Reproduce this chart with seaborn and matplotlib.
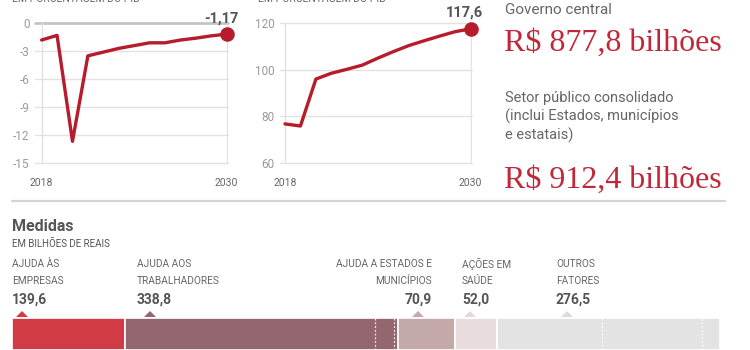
import matplotlib
matplotlib.use("Agg")
import matplotlib.pyplot as plt
from matplotlib.patches import Polygon
import seaborn as sns
import pandas as pd

# ---- data -------------------------------------------------------------
anos = list(range(2018, 2031))
resultado_primario = [-1.8, -1.3, -12.7, -3.5, -3.1, -2.7, -2.4, -2.1, -2.1, -1.8, -1.6, -1.35, -1.17]
divida_bruta = [76.7, 75.8, 96.0, 98.5, 100.2, 102.0, 105.0, 107.8, 110.4, 112.5, 114.5, 116.4, 117.6]

primario_ticks = [0, -3, -6, -9, -12, -15]
divida_ticks = [60, 80, 100, 120]

medidas_nomes = [["AJUDA ÀS", "EMPRESAS"],
                 ["AJUDA AOS", "TRABALHADORES"],
                 ["AJUDA A ESTADOS E", "MUNICÍPIOS"],
                 ["AÇÕES EM", "SAÚDE"],
                 ["OUTROS", "FATORES"]]
medidas_valores = [139.6, 338.8, 70.9, 52.0, 276.5]
divisoes_internas = [450.1, 474.0, 731.5, 855.1]

governo_central = "R$ 877,8 bilhões"
setor_publico = "R$ 912,4 bilhões"

# ---- style ------------------------------------------------------------
sns.set_theme(style="white")
SANS = ["Liberation Sans Narrow", "Roboto", "DejaVu Sans"]
SERIF = ["Liberation Serif", "DejaVu Serif"]
plt.rcParams["font.family"] = SANS

RED_LINE = "#b71c2c"
RED_TEXT = "#c0283a"
GRID = "#e2e2e2"
seg_cores = ["#d13b45", "#946670", "#c4a9ab", "#e9dcdd", "#e3e3e3"]

W, H = 750, 350
fig = plt.figure(figsize=(W / 100, H / 100), dpi=100)


def fx(x):
    return x / W


def fy(y):
    return 1 - y / H


def axes_px(x0, x1, y0, y1):
    return fig.add_axes([fx(x0), fy(y1), (x1 - x0) / W, (y1 - y0) / H])


def fmt(v, nd=1):
    return f"{v:.{nd}f}".replace(".", ",")


def small_chart(ax, values, ticks, ylim, top_label, label_dx):
    df = pd.DataFrame({"ano": anos, "valor": values})
    for t in ticks:
        strong = t == ylim[1] and ticks is primario_ticks
        ax.axhline(t, color="#c4c4c4" if strong else GRID,
                   lw=2 if strong else 1, zorder=0, clip_on=False)
    ax.axvline(anos[0], color=GRID, lw=1, zorder=0)
    ax.axvline(anos[-1], color=GRID, lw=1, zorder=0)
    sns.lineplot(data=df, x="ano", y="valor", ax=ax, color=RED_LINE,
                 lw=2.4, zorder=3, legend=False)
    ax.scatter([anos[-1]], [values[-1]], s=110, color=RED_LINE,
               zorder=4, clip_on=False, linewidths=0)
    ax.annotate(top_label, (anos[-1], values[-1]), xytext=(label_dx, 9),
                textcoords="offset pixels", ha="right", va="bottom",
                fontsize=10.5, fontweight="bold", color="#555555",
                annotation_clip=False)
    ax.set_ylim(*ylim)
    ax.set_yticks(ticks)
    ax.set_yticklabels([str(t) for t in ticks])
    ax.set_xticks([anos[0], anos[-1]])
    ax.set_xticklabels([str(anos[0]), str(anos[-1])])
    ax.tick_params(axis="y", length=0, pad=4, labelsize=8.5, labelcolor="#9a9a9a")
    ax.tick_params(axis="x", length=0, pad=11, labelsize=7.5, labelcolor="#666666")
    ax.set_xlabel("")
    ax.set_ylabel("")
    for s in ax.spines.values():
        s.set_visible(False)
    ax.patch.set_alpha(0)


# ---- left: primary result --------------------------------------------
ax1 = axes_px(35, 228.2, 23.3, 162.7)
ax1.set_xlim(2017.57, 2030.1)
small_chart(ax1, resultado_primario, primario_ticks, (-15, 0),
            fmt(resultado_primario[-1], 2), 12)

# ---- middle: gross debt ----------------------------------------------
ax2 = axes_px(280, 472.2, 23.3, 162.7)
ax2.set_xlim(2017.68, 2030.1)
small_chart(ax2, divida_bruta, divida_ticks, (60, 120),
            fmt(divida_bruta[-1]), 12)

# panel subtitles sit right at the top edge
for x in (12, 258):
    fig.text(fx(x), fy(2.5), "EM PORCENTAGEM DO PIB", fontsize=7.5,
             color="#666666", ha="left", va="baseline")

# ---- right column: totals --------------------------------------------
fig.text(fx(505), fy(10), "Governo central", fontsize=11, color="#666666",
         ha="left", va="center")
fig.text(fx(504), fy(50.5), governo_central, family=SERIF, fontsize=23,
         color=RED_TEXT, ha="left", va="baseline")
for i, linha in enumerate(["Setor público consolidado",
                           "(inclui Estados, municípios",
                           "e estatais)"]):
    fig.text(fx(505), fy(98 + 18.5 * i), linha, fontsize=10.5,
             color="#666666", ha="left", va="center")
fig.text(fx(504), fy(188), setor_publico, family=SERIF, fontsize=23,
         color=RED_TEXT, ha="left", va="baseline")

# separator
fig.add_artist(plt.Line2D([fx(12), fx(725)], [fy(201), fy(201)],
                          color="#d4d4d4", lw=1.6))

# ---- bottom: measures -------------------------------------------------
fig.text(fx(12), fy(226.5), "Medidas", fontsize=11.5, fontweight="bold",
         color="#555555", ha="left", va="center")
fig.text(fx(12), fy(244), "EM BILHÕES DE REAIS", fontsize=7, color="#555555",
         ha="left", va="center")

axb = axes_px(12, 720, 318, 350)
total = sum(medidas_valores)
inicio = 0
for v, c in zip(medidas_valores, seg_cores):
    axb.barh(0.5, v, left=inicio, height=1, color=c, edgecolor="white",
             linewidth=1.2)
    inicio += v
for d in divisoes_internas:
    axb.axvline(d, color="white", lw=0.9, ls=(0, (1.5, 1.5)), alpha=0.85)
axb.set_xlim(0, total)
axb.set_ylim(0, 1)
axb.axis("off")

# label anchors (pixels) and alignment for each measure
ancoras = [(12, "left"), (137, "left"), (432, "right"), (462, "left"), (556, "left")]
triangulos = [22, 150, 418, 470, 567]
for nome, v, (x, ha), tx, cor in zip(medidas_nomes, medidas_valores, ancoras,
                                      triangulos, seg_cores):
    fig.text(fx(x), fy(264), nome[0], fontsize=7.3, color="#666666",
             ha=ha, va="center")
    fig.text(fx(x), fy(281), nome[1], fontsize=7.3, color="#666666",
             ha=ha, va="center")
    fig.text(fx(x), fy(300), fmt(v), fontsize=10, fontweight="bold",
             color="#555555", ha=ha, va="center")
    tri_cor = cor if cor != "#e3e3e3" else "#dcdcdc"
    if cor == "#e9dcdd":
        tri_cor = "#e4d8d9"
    fig.add_artist(Polygon([(fx(tx - 6), fy(317)), (fx(tx + 6), fy(317)),
                            (fx(tx), fy(311))], closed=True,
                           transform=fig.transFigure, color=tri_cor, lw=0))

fig.savefig("out.png", dpi=100)
